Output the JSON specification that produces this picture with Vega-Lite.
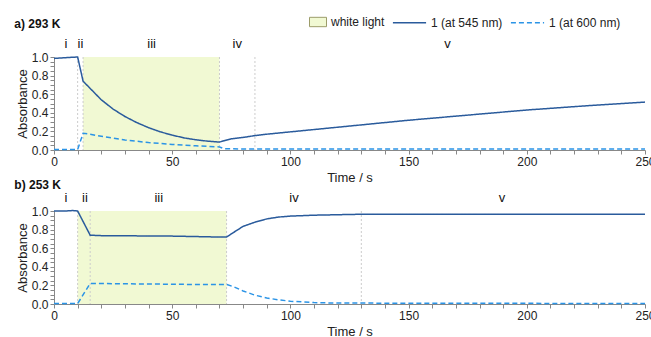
{
  "$schema": "https://vega.github.io/schema/vega-lite/v6.json",
  "padding": {"left": 14, "top": 5, "right": 8, "bottom": 0},
  "config": {
    "font": "Liberation Sans",
    "view": {"stroke": null},
    "axis": {"domainColor": "#888888", "tickColor": "#888888", "labelFontSize": 12, "titleFontSize": 13, "labelColor": "#222222", "titleColor": "#222222", "grid": false, "titleFontWeight": "normal", "tickSize": 4, "labelOverlap": false, "labelFlush": false},
    "axisY": {"titlePadding": 2},
    "legend": {"labelFontSize": 12, "labelColor": "#222222"},
    "title": {"fontSize": 12, "fontWeight": "bold", "anchor": "start", "frame": "bounds", "color": "#111111", "dx": -2}
  },
  "datasets": {
    "light": [
      {"panel": "a", "t": 12.3, "end": 70, "label": "white light"},
      {"panel": "b", "t": 10, "end": 73, "label": "white light"}
    ],
    "rules": [
      {"panel": "a", "t": 10}, {"panel": "a", "t": 12.3}, {"panel": "a", "t": 70}, {"panel": "a", "t": 85},
      {"panel": "b", "t": 10}, {"panel": "b", "t": 15.3}, {"panel": "b", "t": 73}, {"panel": "b", "t": 130}
    ],
    "phases": [
      {"panel": "a", "t": 5, "label": "i"}, {"panel": "a", "t": 11.2, "label": "ii"}, {"panel": "a", "t": 41.3, "label": "iii"}, {"panel": "a", "t": 77.5, "label": "iv"}, {"panel": "a", "t": 166.5, "label": "v"},
      {"panel": "b", "t": 5, "label": "i"}, {"panel": "b", "t": 13.1, "label": "ii"}, {"panel": "b", "t": 44.3, "label": "iii"}, {"panel": "b", "t": 101.5, "label": "iv"}, {"panel": "b", "t": 189.5, "label": "v"}
    ],
    "lines": [
      {"panel": "a", "series": "1 (at 545 nm)", "t": 0, "A": 0.985},
      {"panel": "a", "series": "1 (at 545 nm)", "t": 5, "A": 0.993},
      {"panel": "a", "series": "1 (at 545 nm)", "t": 10, "A": 1.0},
      {"panel": "a", "series": "1 (at 545 nm)", "t": 12.3, "A": 0.74},
      {"panel": "a", "series": "1 (at 545 nm)", "t": 15, "A": 0.67},
      {"panel": "a", "series": "1 (at 545 nm)", "t": 20, "A": 0.54},
      {"panel": "a", "series": "1 (at 545 nm)", "t": 25, "A": 0.44},
      {"panel": "a", "series": "1 (at 545 nm)", "t": 30, "A": 0.36},
      {"panel": "a", "series": "1 (at 545 nm)", "t": 35, "A": 0.295},
      {"panel": "a", "series": "1 (at 545 nm)", "t": 40, "A": 0.24},
      {"panel": "a", "series": "1 (at 545 nm)", "t": 45, "A": 0.195},
      {"panel": "a", "series": "1 (at 545 nm)", "t": 50, "A": 0.16},
      {"panel": "a", "series": "1 (at 545 nm)", "t": 55, "A": 0.13},
      {"panel": "a", "series": "1 (at 545 nm)", "t": 60, "A": 0.11},
      {"panel": "a", "series": "1 (at 545 nm)", "t": 65, "A": 0.095},
      {"panel": "a", "series": "1 (at 545 nm)", "t": 70, "A": 0.085},
      {"panel": "a", "series": "1 (at 545 nm)", "t": 72, "A": 0.1},
      {"panel": "a", "series": "1 (at 545 nm)", "t": 75, "A": 0.12},
      {"panel": "a", "series": "1 (at 545 nm)", "t": 80, "A": 0.135},
      {"panel": "a", "series": "1 (at 545 nm)", "t": 85, "A": 0.155},
      {"panel": "a", "series": "1 (at 545 nm)", "t": 90, "A": 0.17},
      {"panel": "a", "series": "1 (at 545 nm)", "t": 100, "A": 0.195},
      {"panel": "a", "series": "1 (at 545 nm)", "t": 110, "A": 0.22},
      {"panel": "a", "series": "1 (at 545 nm)", "t": 120, "A": 0.245},
      {"panel": "a", "series": "1 (at 545 nm)", "t": 130, "A": 0.27},
      {"panel": "a", "series": "1 (at 545 nm)", "t": 140, "A": 0.295},
      {"panel": "a", "series": "1 (at 545 nm)", "t": 150, "A": 0.32},
      {"panel": "a", "series": "1 (at 545 nm)", "t": 175, "A": 0.375},
      {"panel": "a", "series": "1 (at 545 nm)", "t": 200, "A": 0.43},
      {"panel": "a", "series": "1 (at 545 nm)", "t": 225, "A": 0.475},
      {"panel": "a", "series": "1 (at 545 nm)", "t": 250, "A": 0.515},
      {"panel": "a", "series": "1 (at 600 nm)", "t": 0, "A": 0.005},
      {"panel": "a", "series": "1 (at 600 nm)", "t": 10, "A": 0.005},
      {"panel": "a", "series": "1 (at 600 nm)", "t": 12.3, "A": 0.18},
      {"panel": "a", "series": "1 (at 600 nm)", "t": 15, "A": 0.17},
      {"panel": "a", "series": "1 (at 600 nm)", "t": 20, "A": 0.148},
      {"panel": "a", "series": "1 (at 600 nm)", "t": 30, "A": 0.108},
      {"panel": "a", "series": "1 (at 600 nm)", "t": 40, "A": 0.08},
      {"panel": "a", "series": "1 (at 600 nm)", "t": 50, "A": 0.06},
      {"panel": "a", "series": "1 (at 600 nm)", "t": 60, "A": 0.045},
      {"panel": "a", "series": "1 (at 600 nm)", "t": 70, "A": 0.033},
      {"panel": "a", "series": "1 (at 600 nm)", "t": 72, "A": 0.014},
      {"panel": "a", "series": "1 (at 600 nm)", "t": 80, "A": 0.01},
      {"panel": "a", "series": "1 (at 600 nm)", "t": 250, "A": 0.01},
      {"panel": "b", "series": "1 (at 545 nm)", "t": 0, "A": 1.0},
      {"panel": "b", "series": "1 (at 545 nm)", "t": 5, "A": 1.0},
      {"panel": "b", "series": "1 (at 545 nm)", "t": 8, "A": 1.005},
      {"panel": "b", "series": "1 (at 545 nm)", "t": 10, "A": 1.0},
      {"panel": "b", "series": "1 (at 545 nm)", "t": 15.3, "A": 0.74},
      {"panel": "b", "series": "1 (at 545 nm)", "t": 20, "A": 0.735},
      {"panel": "b", "series": "1 (at 545 nm)", "t": 30, "A": 0.735},
      {"panel": "b", "series": "1 (at 545 nm)", "t": 40, "A": 0.73},
      {"panel": "b", "series": "1 (at 545 nm)", "t": 50, "A": 0.73},
      {"panel": "b", "series": "1 (at 545 nm)", "t": 60, "A": 0.725},
      {"panel": "b", "series": "1 (at 545 nm)", "t": 70, "A": 0.72},
      {"panel": "b", "series": "1 (at 545 nm)", "t": 73, "A": 0.72},
      {"panel": "b", "series": "1 (at 545 nm)", "t": 76, "A": 0.77},
      {"panel": "b", "series": "1 (at 545 nm)", "t": 80, "A": 0.835},
      {"panel": "b", "series": "1 (at 545 nm)", "t": 85, "A": 0.88},
      {"panel": "b", "series": "1 (at 545 nm)", "t": 90, "A": 0.915},
      {"panel": "b", "series": "1 (at 545 nm)", "t": 95, "A": 0.935},
      {"panel": "b", "series": "1 (at 545 nm)", "t": 100, "A": 0.945},
      {"panel": "b", "series": "1 (at 545 nm)", "t": 110, "A": 0.955},
      {"panel": "b", "series": "1 (at 545 nm)", "t": 120, "A": 0.96},
      {"panel": "b", "series": "1 (at 545 nm)", "t": 130, "A": 0.965},
      {"panel": "b", "series": "1 (at 545 nm)", "t": 250, "A": 0.965},
      {"panel": "b", "series": "1 (at 600 nm)", "t": 0, "A": 0.005},
      {"panel": "b", "series": "1 (at 600 nm)", "t": 10, "A": 0.005},
      {"panel": "b", "series": "1 (at 600 nm)", "t": 15.3, "A": 0.22},
      {"panel": "b", "series": "1 (at 600 nm)", "t": 20, "A": 0.22},
      {"panel": "b", "series": "1 (at 600 nm)", "t": 40, "A": 0.215},
      {"panel": "b", "series": "1 (at 600 nm)", "t": 60, "A": 0.21},
      {"panel": "b", "series": "1 (at 600 nm)", "t": 73, "A": 0.21},
      {"panel": "b", "series": "1 (at 600 nm)", "t": 76, "A": 0.185},
      {"panel": "b", "series": "1 (at 600 nm)", "t": 80, "A": 0.14},
      {"panel": "b", "series": "1 (at 600 nm)", "t": 85, "A": 0.095},
      {"panel": "b", "series": "1 (at 600 nm)", "t": 90, "A": 0.065},
      {"panel": "b", "series": "1 (at 600 nm)", "t": 95, "A": 0.045},
      {"panel": "b", "series": "1 (at 600 nm)", "t": 100, "A": 0.03},
      {"panel": "b", "series": "1 (at 600 nm)", "t": 110, "A": 0.015},
      {"panel": "b", "series": "1 (at 600 nm)", "t": 120, "A": 0.01},
      {"panel": "b", "series": "1 (at 600 nm)", "t": 250, "A": 0.005}
    ]
  },
  "spacing": -6,
  "vconcat": [
    {
      "title": {"text": "a) 293 K", "offset": 7},
      "width": 591,
      "height": 93,
      "encoding": {
        "x": {"field": "t", "type": "quantitative", "scale": {"domain": [0, 250]}, "title": "Time / s",
              "axis": {"values": [0,10,20,30,40,50,60,70,80,90,100,110,120,130,140,150,160,170,180,190,200,210,220,230,240,250], "labelExpr": "datum.value % 50 == 0 ? datum.label : ''"}}
      },
      "layer": [
        {
          "data": {"name": "light"},
          "transform": [{"filter": "datum.panel == 'a'"}],
          "mark": {"type": "rect"},
          "encoding": {
            "x2": {"field": "end"},
            "y": {"datum": 0, "type": "quantitative", "scale": {"domain": [0, 1]}, "title": "Absorbance",
                  "axis": {"values": [0,0.05,0.1,0.15,0.2,0.25,0.3,0.35,0.4,0.45,0.5,0.55,0.6,0.65,0.7,0.75,0.8,0.85,0.9,0.95,1.0], "labelExpr": "abs(datum.value*5 - round(datum.value*5)) < 0.001 ? format(datum.value, '.1f') : ''"}},
            "y2": {"datum": 1},
            "fill": {"field": "label", "type": "nominal", "scale": {"range": ["#f1f9d3"]},
                     "legend": {"title": null, "orient": "none", "legendX": 255, "legendY": -44, "symbolType": "M-1,-0.55H1V0.55H-1Z", "symbolSize": 289, "symbolStrokeColor": "#9c9c6a", "symbolStrokeWidth": 1}}
          }
        },
        {
          "data": {"name": "rules"},
          "transform": [{"filter": "datum.panel == 'a'"}],
          "mark": {"type": "rule", "color": "#cccccc", "strokeDash": [2, 2], "strokeWidth": 1},
          "encoding": {}
        },
        {
          "data": {"name": "lines"},
          "transform": [{"filter": "datum.panel == 'a'"}],
          "mark": {"type": "line", "strokeWidth": 1.5},
          "encoding": {
            "y": {"field": "A", "type": "quantitative", "scale": {"domain": [0, 1]}, "title": "Absorbance",
                  "axis": {"values": [0,0.05,0.1,0.15,0.2,0.25,0.3,0.35,0.4,0.45,0.5,0.55,0.6,0.65,0.7,0.75,0.8,0.85,0.9,0.95,1.0], "labelExpr": "abs(datum.value*5 - round(datum.value*5)) < 0.001 ? format(datum.value, '.1f') : ''"}},
            "color": {"field": "series", "type": "nominal", "scale": {"range": ["#2a5b9c", "#2b94e6"]},
                      "legend": {"title": null, "orient": "none", "legendX": 338, "legendY": -52, "direction": "horizontal", "symbolSize": 1100, "symbolStrokeWidth": 1.5, "columnPadding": 4}},
            "strokeDash": {"field": "series", "type": "nominal", "scale": {"range": [[1, 0], [5, 3]]},
                      "legend": {"title": null, "orient": "none", "legendX": 338, "legendY": -52, "direction": "horizontal", "symbolSize": 1100, "symbolStrokeWidth": 1.5, "columnPadding": 4}}
          }
        },
        {
          "data": {"name": "phases"},
          "transform": [{"filter": "datum.panel == 'a'"}],
          "mark": {"type": "text", "fontSize": 13, "baseline": "alphabetic", "color": "#111111"},
          "encoding": {
            "y": {"datum": 1.1, "type": "quantitative", "scale": {"domain": [0, 1]}, "title": "Absorbance",
                  "axis": {"values": [0,0.05,0.1,0.15,0.2,0.25,0.3,0.35,0.4,0.45,0.5,0.55,0.6,0.65,0.7,0.75,0.8,0.85,0.9,0.95,1.0], "labelExpr": "abs(datum.value*5 - round(datum.value*5)) < 0.001 ? format(datum.value, '.1f') : ''"}},
            "text": {"field": "label"}
          }
        }
      ]
    },
    {
      "title": {"text": "b) 253 K", "offset": 0},
      "width": 591,
      "height": 93,
      "encoding": {
        "x": {"field": "t", "type": "quantitative", "scale": {"domain": [0, 250]}, "title": "Time / s",
              "axis": {"values": [0,10,20,30,40,50,60,70,80,90,100,110,120,130,140,150,160,170,180,190,200,210,220,230,240,250], "labelExpr": "datum.value % 50 == 0 ? datum.label : ''"}}
      },
      "layer": [
        {
          "data": {"name": "light"},
          "transform": [{"filter": "datum.panel == 'b'"}],
          "mark": {"type": "rect"},
          "encoding": {
            "x2": {"field": "end"},
            "y": {"datum": 0, "type": "quantitative", "scale": {"domain": [0, 1]}, "title": "Absorbance",
                  "axis": {"values": [0,0.05,0.1,0.15,0.2,0.25,0.3,0.35,0.4,0.45,0.5,0.55,0.6,0.65,0.7,0.75,0.8,0.85,0.9,0.95,1.0], "labelExpr": "abs(datum.value*5 - round(datum.value*5)) < 0.001 ? format(datum.value, '.1f') : ''"}},
            "y2": {"datum": 1},
            "fill": {"field": "label", "type": "nominal", "scale": {"range": ["#f1f9d3"]},
                     "legend": {"title": null, "orient": "none", "legendX": 255, "legendY": -44, "symbolType": "M-1,-0.55H1V0.55H-1Z", "symbolSize": 289, "symbolStrokeColor": "#9c9c6a", "symbolStrokeWidth": 1}}
          }
        },
        {
          "data": {"name": "rules"},
          "transform": [{"filter": "datum.panel == 'b'"}],
          "mark": {"type": "rule", "color": "#cccccc", "strokeDash": [2, 2], "strokeWidth": 1},
          "encoding": {}
        },
        {
          "data": {"name": "lines"},
          "transform": [{"filter": "datum.panel == 'b'"}],
          "mark": {"type": "line", "strokeWidth": 1.5},
          "encoding": {
            "y": {"field": "A", "type": "quantitative", "scale": {"domain": [0, 1]}, "title": "Absorbance",
                  "axis": {"values": [0,0.05,0.1,0.15,0.2,0.25,0.3,0.35,0.4,0.45,0.5,0.55,0.6,0.65,0.7,0.75,0.8,0.85,0.9,0.95,1.0], "labelExpr": "abs(datum.value*5 - round(datum.value*5)) < 0.001 ? format(datum.value, '.1f') : ''"}},
            "color": {"field": "series", "type": "nominal", "scale": {"range": ["#2a5b9c", "#2b94e6"]},
                      "legend": {"title": null, "orient": "none", "legendX": 338, "legendY": -52, "direction": "horizontal", "symbolSize": 1100, "symbolStrokeWidth": 1.5, "columnPadding": 4}},
            "strokeDash": {"field": "series", "type": "nominal", "scale": {"range": [[1, 0], [5, 3]]},
                      "legend": {"title": null, "orient": "none", "legendX": 338, "legendY": -52, "direction": "horizontal", "symbolSize": 1100, "symbolStrokeWidth": 1.5, "columnPadding": 4}}
          }
        },
        {
          "data": {"name": "phases"},
          "transform": [{"filter": "datum.panel == 'b'"}],
          "mark": {"type": "text", "fontSize": 13, "baseline": "alphabetic", "color": "#111111"},
          "encoding": {
            "y": {"datum": 1.1, "type": "quantitative", "scale": {"domain": [0, 1]}, "title": "Absorbance",
                  "axis": {"values": [0,0.05,0.1,0.15,0.2,0.25,0.3,0.35,0.4,0.45,0.5,0.55,0.6,0.65,0.7,0.75,0.8,0.85,0.9,0.95,1.0], "labelExpr": "abs(datum.value*5 - round(datum.value*5)) < 0.001 ? format(datum.value, '.1f') : ''"}},
            "text": {"field": "label"}
          }
        }
      ]
    }
  ]
}
